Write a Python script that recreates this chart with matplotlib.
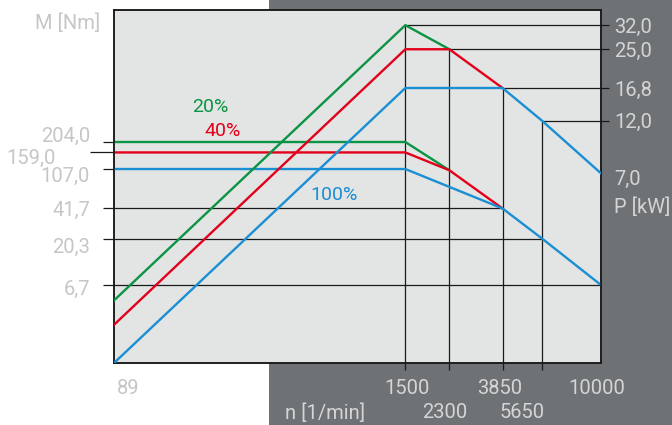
import matplotlib.pyplot as plt
import matplotlib.transforms as mtransforms
from matplotlib.patches import Rectangle

# speed ticks [1/min]
n_ticks = [89, 1500, 2300, 3850, 5650, 10000]
# torque ticks [Nm] (left) and power ticks [kW] (right)
M_ticks = [204.0, 159.0, 107.0, 41.7, 20.3, 6.7]
P_ticks = [32.0, 25.0, 16.8, 12.0, 7.0]

# torque curves
n_20 = [89, 1500, 2300]
M_20 = [204.0, 204.0, 103.8]
n_40 = [89, 1500, 2300, 3850]
M_40 = [159.0, 159.0, 103.8, 41.7]
n_100 = [89, 1500, 3850, 5650, 10000]
M_100 = [107.0, 107.0, 41.7, 20.3, 6.7]

# power curves
P_20 = [1.9, 32.0, 25.0]
P_40 = [1.48, 25.0, 25.0, 16.8]
P_100 = [1.0, 16.8, 16.8, 12.0, 7.0]

labels = ["20%", "40%", "100%"]

GREEN = "#0b9444"
RED = "#e2001a"
BLUE = "#1a8fd4"
DARK = "#6e7275"
PLOTBG = "#e3e4e4"
TXT_L = "#c6c6c6"
TXT_R = "#d3d5d6"

plt.rcParams['font.family'] = ['Roboto', 'DejaVu Sans']

W, H = 672, 425
fig = plt.figure(figsize=(W / 100, H / 100), dpi=100)


def px(x, y):
    return x / W, 1 - y / H


# dark background on the right side
fig.patches.append(Rectangle((269 / W, 0), 1 - 269 / W, 1, transform=fig.transFigure,
                             facecolor=DARK, edgecolor='none', zorder=-5))

ax = fig.add_axes([114 / W, 62 / H, 487 / W, 353 / H], zorder=1)
ax.set_facecolor(PLOTBG)
ax.set_xscale('log')
ax.set_yscale('log')

ax2 = ax.twinx()
ax2.set_zorder(2)
ax2.set_yscale('log')
ax2.patch.set_visible(False)

for a in (ax, ax2):
    for s in a.spines.values():
        s.set_color('#1a1a1a')
        s.set_linewidth(1.1)

lw_ref = 0.9
kref = dict(color='#1a1a1a', lw=lw_ref, zorder=2, solid_capstyle='butt')

# torque reference lines
ax.plot([n_ticks[0], n_ticks[3]], [M_ticks[3]] * 2, **kref)
ax.plot([n_ticks[0], n_ticks[4]], [M_ticks[4]] * 2, **kref)
ax.plot([n_ticks[0], n_ticks[5]], [M_ticks[5]] * 2, **kref)

# power reference lines (drawn under the curves, in power coordinates)
for n0, p in zip(n_ticks[1:5], P_ticks[:4]):
    ax.plot([n0, n_ticks[5]], [p, p], transform=ax2.transData, **kref)
    ax.plot([n0, n0], [1.0, p], transform=ax2.transData, **kref)

# torque curves
ax.plot(n_20, M_20, color=GREEN, lw=1.7, zorder=4)
ax.plot(n_40, M_40, color=RED, lw=1.7, zorder=5)
ax.plot(n_100, M_100, color=BLUE, lw=1.7, zorder=6)

# power curves
ax2.plot(n_20, P_20, color=GREEN, lw=1.7, zorder=4)
ax2.plot(n_40, P_40, color=RED, lw=1.7, zorder=5)
ax2.plot(n_100, P_100, color=BLUE, lw=1.7, zorder=6)

ax.set_xlim(89, 10000)
ax.set_ylim(1.04, 4776)
ax2.set_ylim(1.0, 37.4)

# ticks
ax.minorticks_off()
ax2.minorticks_off()
ax.set_xticks(n_ticks[1:5])
ax.set_xticklabels([])
ax.tick_params(axis='x', direction='out', length=5, width=lw_ref, color='#1a1a1a')
ax.set_yticks(M_ticks)
ax.set_yticklabels([])
ax.tick_params(axis='y', direction='out', length=8, width=lw_ref, color='#1a1a1a')
ax.yaxis.get_major_ticks()[1].tick1line.set_markersize(17.5)
ax2.set_yticks(P_ticks[:4])
ax2.set_yticklabels([])
ax2.tick_params(axis='y', direction='out', length=6, width=lw_ref, color='#1a1a1a')

fs = 14.5
fmt = lambda v: f"{v:.1f}".replace('.', ',')

# left labels
left_off = [7.5, -3.5, -5.5, 0, -7, -2.5]
left_x = [90, 56, 90, 90, 90, 90]
trL = mtransforms.blended_transform_factory(fig.transFigure, ax.transData)
for v, off, xp in zip(M_ticks, left_off, left_x):
    t = mtransforms.offset_copy(trL, fig=fig, y=off, units='dots')
    fig.text(xp / W, v, fmt(v), transform=t, ha='right', va='center_baseline',
             fontsize=fs, color=TXT_L)

# right labels
right_off = [0, 0, 0, 0, -4]
trR = mtransforms.blended_transform_factory(fig.transFigure, ax2.transData)
for v, off in zip(P_ticks, right_off):
    t = mtransforms.offset_copy(trR, fig=fig, y=off, units='dots')
    fig.text(614 / W, v, fmt(v), transform=t, ha='left', va='center_baseline',
             fontsize=fs, color=TXT_R)

# bottom labels
row1 = {89: 128, 1500: 407, 3850: 500, 10000: 597}
row2 = {2300: 445, 5650: 522}
for n0 in n_ticks:
    if n0 in row1:
        fig.text(row1[n0] / W, 1 - 386 / H, str(n0), ha='center', va='center_baseline',
                 fontsize=fs, color=TXT_L if n0 == 89 else TXT_R)
    else:
        fig.text(row2[n0] / W, 1 - 410 / H, str(n0), ha='center', va='center_baseline',
                 fontsize=fs, color=TXT_R)

# axis titles
fig.text(*px(100, 21), "M [Nm]", ha='right', va='center_baseline', fontsize=fs, color=TXT_L)
fig.text(*px(614, 205), "P [kW]", ha='left', va='center_baseline', fontsize=fs, color=TXT_R)
fig.text(*px(285, 411), "n [1/min]", ha='left', va='center_baseline', fontsize=fs, color=TXT_R)

# series labels
fig.text(*px(210, 105.5), labels[0], ha='center', va='center_baseline', fontsize=14,
         color=GREEN, zorder=5)
fig.text(*px(223, 129.5), labels[1], ha='center', va='center_baseline', fontsize=14,
         color=RED, zorder=5)
fig.text(*px(334, 193.5), labels[2], ha='center', va='center_baseline', fontsize=14,
         color=BLUE, zorder=5)

fig.savefig('out.png', dpi=100)
